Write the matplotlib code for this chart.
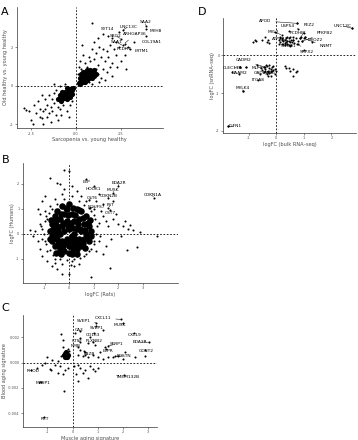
import numpy as np
import matplotlib
matplotlib.use("Agg")
import matplotlib.pyplot as plt

# ---- panel A: sarcopenia vs old healthy
a_x = [0.9, 1.2, 1.5, 1.8, 2.0, 2.2, 3.2, 2.4, 2.1, 1.9, 1.7, 1.5, 1.3, 1.1, 0.9, 0.7, 1.0, 1.4, 1.6, 1.8,
       2.0, 2.3, 2.8, 2.5, 2.2, 1.2, 0.5, 0.4, 0.3, 1.5, 1.7, 2.0, 1.4, 1.2, 0.8, 0.6, 0.2, 1.9, 1.3, 1.6,
       0.35, 1.0, 2.7, 0.1, 0.15, 1.1, 0.7, 0.9,
       -1.2, -1.4, -1.6, -1.8, -2.0, -2.2, -2.5, -2.4, -2.9, -2.75, -1.9, -1.5, -1.3, -1.1, -1.0, -1.7, -1.5,
       -1.2, -2.1, -1.9, -1.3, -0.9, -0.7, -1.6, -2.3, -1.1, -0.3, -0.5, -1.4, -1.8, -1.0, -0.8, -0.2, -2.6,
       -1.2, -0.9, -0.6, -0.4, -1.7, -2.0]
a_y = [3.25, 2.5, 2.7, 2.6, 2.5, 2.3, 2.3, 2.0, 1.9, 2.1, 1.8, 1.9, 2.0, 1.7, 1.9, 1.5, 1.4, 1.5, 1.3, 1.5,
       1.2, 1.0, 0.9, 1.3, 1.6, 1.1, 1.2, 1.6, 0.9, 0.9, 0.7, 0.5, 0.4, 0.6, 1.3, 1.0, 1.3, 1.0, 0.2, 0.3,
       2.1, 2.3, 1.6, 0.6, 1.0, 0.9, 0.2, 0.1,
       -0.9, -1.1, -1.0, -1.3, -1.2, -1.4, -1.8, -2.0, -1.15, -1.25, -1.7, -1.4, -1.3, -1.5, -1.1, -0.7, -0.5,
       -0.4, -0.8, -0.5, -0.7, -1.2, -1.0, -1.6, -1.0, -0.2, -1.0, -1.3, -1.9, -2.0, -1.8, -1.5, -0.8, -1.3,
       0.1, 0.0, 0.1, -1.6, -1.2, -1.6]
a_core_x = [0.2, 0.3, 0.4, 0.5, 0.6, 0.7, 0.8, 0.9, 0.4, 0.3, 0.5, 0.6, 0.7, 0.8, 1.0, 1.1, 0.9, 0.2, 0.15,
            0.5, 0.45, 0.65, 0.55, 0.35, 0.75, 1.0, 0.85, 0.25, 0.6, 0.4,
            -0.2, -0.3, -0.4, -0.5, -0.6, -0.7, -0.8, -0.9, -0.4, -0.3, -0.5, -0.6, -0.7, -0.8, -1.0, -0.2,
            -0.45, -0.55, -0.65, -0.35, -0.15, -0.75, -0.5, -0.9]
a_core_y = [0.2, 0.3, 0.2, 0.4, 0.5, 0.6, 0.5, 0.7, 0.5, 0.6, 0.7, 0.3, 0.4, 0.8, 0.8, 0.6, 0.4, 0.4, 0.15,
            0.2, 0.35, 0.65, 0.55, 0.45, 0.75, 0.5, 0.6, 0.1, 0.8, 0.7,
            -0.2, -0.3, -0.2, -0.4, -0.5, -0.6, -0.5, -0.7, -0.5, -0.6, -0.7, -0.3, -0.4, -0.8, -0.7, -0.45,
            -0.35, -0.55, -0.65, -0.15, -0.1, -0.3, -0.1, -0.5]
a_labels = ["SYT14", "UNC13C", "SAA2", "MYH8", "SBG2", "ARHGAP36", "SAA1", "COL19A1", "PCDH7", "LRTM1"]
a_lab_x = [1.78, 2.9, 3.85, 4.45, 2.2, 3.28, 2.28, 4.2, 2.67, 3.65]
a_lab_y = [2.94, 3.07, 3.3, 2.87, 2.6, 2.68, 2.26, 2.3, 1.9, 1.83]
a_pt_x = [2.4, 2.6, 3.9, 3.9, 2.5, 2.7, 2.6, 3.9, 2.9, 3.0]
a_pt_y = [2.8, 2.9, 3.1, 2.95, 2.45, 2.2, 2.1, 2.6, 2.0, 1.9]

# ---- panel B: rats vs humans
b_x = [-0.78, -0.2, 0.0, -0.4, -0.5, 0.1, -0.3, -1.0, -1.1, -1.3, -1.2, -1.63, -1.4, -1.5, -1.3, -1.2, -1.1,
       -0.9, -0.7, -0.5, -0.3, 0.0, 0.2, 0.4, 0.6, 2.37, 2.78, 2.9, 3.6, 1.67, 0.9,
       1.5, 1.6, 1.8, 2.0, 2.2, 2.4, 1.3, 1.4, 1.9, 2.3, 2.6, 1.2, 1.5, 1.7, 1.4, 1.1, 2.1, 1.8, 1.4, 1.1,
       1.2, 1.0, 2.5, -0.6, -0.2, 0.3, 0.5, 0.7, -0.8, -1.0, -0.9, -1.2, -1.1, -1.0, -0.9, -0.6, -0.3, 0.1,
       0.3, 0.8, 1.0, -1.0, -1.05, -0.95, -0.85, -0.7, -0.5, -0.2, 0.1, 0.4, 0.6, 0.9, 1.05, 1.15, 1.1, 1.0,
       0.9, 0.7, 0.45, 0.2, -0.1, -0.4, -0.65, -0.8, -1.1, -1.15, -0.95, 1.2, 1.0, 0.8, -0.6, 0.05, 1.25]
b_y = [2.24, 2.55, 2.5, 2.0, 2.05, 1.9, 1.6, 1.5, 1.3, 1.0, 0.8, 0.16, 0.1, -0.1, -0.3, -0.6, -0.9, -1.1,
       -1.3, -1.4, -1.6, -1.6, -1.3, -1.2, -0.9, -0.64, -0.52, 0.08, -0.08, -1.36, -1.72,
       0.5, 0.3, 0.6, 0.4, 0.3, 0.2, 0.9, 0.7, 0.8, 0.5, 0.15, -0.3, -0.5, -0.2, -0.8, -0.7, -0.1, 1.3, 1.2,
       1.3, 1.6, 1.0, 0.35, 1.4, 1.8, 1.7, 1.5, 1.3, 1.1, 0.9, 0.6, 0.4, 0.2, -0.3, -0.7, -1.0, -1.2, -1.1,
       -0.9, -0.7, -0.4, 0.5, 0.0, -0.4, 0.85, 1.0, 1.2, 1.4, 1.5, 1.3, 1.15, 0.9, 0.6, 0.3, 0.0, -0.3, -0.6,
       -0.8, -0.95, -1.0, -1.05, -1.0, -0.85, -0.65, -0.2, 0.3, 0.7, 0.45, 0.75, 1.05, -1.15, -1.25, -0.1]
b_core_x = [-0.8, -0.7, -0.7, -0.6, -0.6, -0.6, -0.5, -0.5, -0.5, -0.4, -0.4, -0.4, -0.3, -0.3, -0.3, -0.2,
            -0.2, -0.2, -0.1, -0.1, 0.0, 0.0, 0.0, 0.1, 0.1, 0.1, 0.2, 0.2, 0.2, 0.3, 0.3, 0.3, 0.4, 0.4,
            0.5, 0.5, 0.5, 0.6, 0.6, 0.7, 0.7, 0.8, 0.8, 0.9, -0.8, -0.75, -0.1, 0.4, 0.0, -0.35, 0.65, 0.85,
            -0.65, -0.55, -0.45, -0.45, -0.35, -0.25, -0.25, -0.15, -0.05, -0.05, 0.05, 0.05, 0.15, 0.15,
            0.25, 0.25, 0.35, 0.35, 0.45, 0.55, 0.55, 0.65, 0.75, 0.75, -0.7, -0.15, 0.15, -0.55, 0.3, 0.9]
b_core_y = [0.1, 0.4, -0.3, 0.7, 0.0, -0.5, 0.3, -0.2, 0.9, 0.6, 0.0, -0.6, 1.1, 0.3, -0.3, 0.8, 0.1, -0.7,
            0.5, -0.2, 1.2, 0.2, -0.5, 0.8, -0.1, -0.8, 0.5, 0.0, -0.4, 1.0, 0.2, -0.6, 0.6, -0.2, 0.9, 0.1,
            -0.5, 0.4, -0.2, 0.7, 0.0, 0.3, -0.3, 0.1, -0.2, 0.55, 1.0, 0.95, -0.75, -0.8, -0.55, 0.55,
            0.2, 0.5, -0.4, 0.15, 0.8, 0.45, -0.5, -0.35, 0.3, 0.75, 0.45, -0.3, 0.25, -0.6, 0.75, -0.2,
            -0.4, 0.4, 0.2, 0.65, -0.35, 0.15, -0.15, 0.45, -0.1, 1.05, 1.05, -0.75, -0.8, -0.1]
b_labels = ["LEP", "HOOK1", "EDA2R", "MUSK", "CDKN1A", "CST6", "CDKN2B", "NDUFS7", "FST", "CST7"]
b_lab_x = [0.69, 0.98, 2.04, 1.8, 3.4, 0.94, 1.63, 1.1, 1.7, 1.7]
b_lab_y = [2.09, 1.8, 2.03, 1.76, 1.56, 1.45, 1.53, 1.09, 1.16, 0.84]
b_pt_x = [0.69, 1.0, 2.0, 1.8, 3.45, 0.8, 1.6, 0.85, 1.6, 1.65]
b_pt_y = [2.2, 1.9, 1.9, 1.65, 1.45, 1.35, 1.42, 1.05, 1.05, 0.95]

# ---- panel C: muscle vs blood aging signature
c_x = [-0.47, -0.4, -0.4, -0.35, -0.3, -0.25, -0.2, -0.15, -0.3, -0.45, -0.2,
       -1.0, -0.8, -0.6, -1.2, -1.4, -0.9, -0.7, -0.5, -0.3, -0.6, -0.4, -0.2, -0.85, -1.1, -0.35,
       0.2, 0.3, 0.4, 0.5, 0.7, 0.8, 1.0, 0.23, 0.6, 0.9, 0.15, 0.05,
       0.2, 0.3, 0.4, 0.5, 0.6, 0.8, 1.0, 1.2, 1.4, 1.6, 1.8, 2.0, 2.1, 2.5, 2.9, 1.1, 1.3, 0.6, 0.9, 0.7,
       0.3, 1.2, 0.1, 0.45]
c_y = [0.00226, 0.0018, 0.0012, 0.0008, 0.0006, 0.0007, 0.0005, 0.0009, 0.0004, 0.0005, 0.0011,
       0.0004, 0.0002, 0.0001, -0.0002, -0.0004, -0.0005, -0.0002, -0.0003, -0.0006, -0.0008, -0.0009,
       -0.0004, -0.0006, 0.0, -0.00226,
       -0.0002, -0.0004, -0.0008, -0.0006, -0.0003, -0.0005, -0.0004, -0.00148, -0.0012, -0.0007, -0.0009,
       -0.0003,
       0.0006, 0.001, 0.0005, 0.0008, 0.0004, 0.0006, 0.0004, 0.0003, 0.0004, 0.0004, 0.0005, 0.0003, 0.0008,
       0.0004, 0.0005, 0.0008, 0.0012, 0.0015, 0.0014, 0.002, 0.0019, 0.0026, 0.0023, 0.0009]
c_core_x = [-0.35, -0.3, -0.25, -0.2, -0.32, -0.22, -0.28]
c_core_y = [0.0006, 0.0007, 0.0005, 0.0006, 0.0004, 0.0004, 0.0008]
c_labels = ["SVEP1", "CXCL11", "MUSK", "SVEP1", "CA3", "CD163", "CXCL9", "CTSF", "PLXNB2", "EDA2R",
            "SFRP1", "NMB", "LEPR", "FRZB", "GCNT2", "POSTN", "TMEM132B", "RHOD", "MASP1", "RET"]
c_lab_x = [0.43, 1.23, 1.9, 0.96, 0.28, 0.83, 2.49, 0.2, 0.85, 2.7, 1.74, 0.12, 1.42, 0.67, 2.92, 2.06,
           2.17, -1.58, -1.18, -1.1]
c_lab_y = [0.00327, 0.00348, 0.00296, 0.00275, 0.00257, 0.00218, 0.00218, 0.00171, 0.00171, 0.00161,
           0.00145, 0.00127, 0.00093, 0.0007, 0.00088, 0.00052, -0.00114, -0.00068, -0.00158, -0.00441]
c_pt_x = [0.95, 1.95, 2.0, 0.95, 0.3, 0.85, 2.45, 0.3, 0.8, 3.05, 1.4, 0.2, 1.35, 0.5, 2.9, 1.7, 2.05,
          -1.65, -1.25, -1.15]
c_pt_y = [0.00315, 0.0034, 0.0031, 0.0029, 0.00245, 0.0023, 0.00232, 0.0016, 0.0016, 0.0016, 0.0013,
          0.0012, 0.0011, 0.0006, 0.001, 0.0005, -0.001, -0.0006, -0.0015, -0.0043]

# ---- panel D: bulk vs single-nucleus RNA-seq
d_x = [-0.85, -0.78, -0.72, -0.5, -0.4, -0.35, -0.25, -0.3,
       0.1, 0.15, 0.2, 0.25, 0.3, 0.35, 0.4, 0.45, 0.5, 0.55, 0.6, 0.65, 0.7, 0.75, 0.2, 0.3, 0.4, 0.5, 0.15,
       0.25, 0.35, 0.45, 0.55, 0.62, 0.1, 0.8, 0.85, 0.9, 0.2, 0.3, 0.12, 0.4, 0.5, 0.58,
       0.75, 0.45, 1.0, 1.05, -0.05, 0.95, 1.3, 1.0,
       -0.45, -0.4, -0.35, -0.3, -0.25, -0.2, -0.15, -0.1, -0.05, -0.45, -0.35, -0.25, -0.2, -0.15, -0.1,
       -0.3, -0.4, -0.5, -0.55, -0.05, 0.0, -0.18, -0.28, -0.38,
       0.3, 0.35, 0.45, 0.5, 0.6, 0.7, 0.77, 0.6,
       -1.3, -1.6, -1.1, -0.7, -0.6, -0.65, -1.35, 2.75, -1.21, -1.76]
d_y = [0.35, 0.4, 0.37, 0.42, 0.48, 0.36, 0.33, 0.42,
       0.4, 0.35, 0.45, 0.3, 0.4, 0.35, 0.3, 0.45, 0.35, 0.28, 0.4, 0.33, 0.45, 0.3, 0.3, 0.28, 0.5, 0.5,
       0.5, 0.38, 0.45, 0.28, 0.42, 0.5, 0.3, 0.38, 0.45, 0.5, 0.4, 0.33, 0.45, 0.38, 0.25, 0.35,
       0.85, 0.65, 0.6, 0.48, 0.62, 0.38, 0.35, 0.15,
       -0.3, -0.35, -0.28, -0.4, -0.32, -0.45, -0.3, -0.38, -0.5, -0.45, -0.5, -0.25, -0.35, -0.42, -0.28,
       -0.55, -0.42, -0.38, -0.32, -0.35, -0.4, -0.55, -0.47, -0.25,
       -0.28, -0.32, -0.33, -0.4, -0.35, -0.45, -0.4, -0.55,
       -0.3, -0.45, -0.3, -0.25, -0.5, -0.65, -0.5, 0.72, -0.95, -1.88]
d_labels = ["APOD", "USP54", "FEZ2", "UNC13C", "MYL2", "PCDHB", "PFKFB2", "ATP2A2", "MYOZ2", "NNMT",
            "SMOC1", "SRPX2", "CADM2", "CLEC11A", "MLF1", "DAAM2", "GADD45G", "ITGA8", "MYLK4", "IGFN1"]
d_lab_x = [-0.39, 0.4, 1.2, 2.42, -0.1, 0.75, 1.75, 0.14, 1.43, 1.8, 0.46, 1.1, -1.18, -1.57, -0.7,
           -1.33, -0.43, -0.64, -1.21, -1.5]
d_lab_y = [0.91, 0.78, 0.8, 0.78, 0.61, 0.6, 0.59, 0.43, 0.4, 0.24, 0.24, 0.09, -0.13, -0.32, -0.32, -0.47,
           -0.47, -0.65, -0.87, -1.88]
d_pt_x = [0.75, 0.8, 0.85, 2.75, 0.2, 0.6, 0.95, 0.45, 1.05, 1.0, 0.4, 0.8, -0.45, -1.3, -0.4, -1.1,
          -0.2, -0.3, -1.21, -1.76]
d_pt_y = [0.85, 0.7, 0.45, 0.72, 0.55, 0.42, 0.38, 0.38, 0.48, 0.45, 0.3, 0.3, -0.3, -0.3, -0.3, -0.3,
          -0.4, -0.45, -0.95, -1.88]

TXT = "#4d4d4d"

fig = plt.figure(figsize=(3.58, 4.4), dpi=100)


def panel(rect, xs, ys, cx, cy, labs, lx, ly, px, py, xlim, ylim, xt, xtl, yt, ytl, xlabel, ylabel,
          core_size=14):
    ax = fig.add_axes(rect)
    ax.scatter(cx, cy, s=core_size, c="black", linewidths=0)
    ax.scatter(xs, ys, s=2.2, c="black", linewidths=0)
    ax.scatter(px, py, s=2.2, c="black", linewidths=0)
    ax.axhline(0, color="black", lw=0.6, ls=(0, (2, 2)))
    ax.axvline(0, color="black", lw=0.6, ls=(0, (2, 2)))
    for name, tx, ty, x0, y0 in zip(labs, lx, ly, px, py):
        ax.annotate(name, xy=(x0, y0), xytext=(tx, ty), fontsize=3.2, ha="center", va="center",
                    arrowprops=dict(arrowstyle="-", lw=0.35, color="black", shrinkA=1, shrinkB=0.5))
    ax.set_xlim(*xlim)
    ax.set_ylim(*ylim)
    ax.set_xticks(xt)
    ax.set_xticklabels(xtl)
    ax.set_yticks(yt)
    ax.set_yticklabels(ytl)
    ax.tick_params(length=1.5, width=0.4, labelsize=2.5, labelcolor=TXT, pad=1, color="#333333")
    for s in ["top", "right"]:
        ax.spines[s].set_visible(False)
    for s in ["left", "bottom"]:
        ax.spines[s].set_linewidth(0.5)
        ax.spines[s].set_color("#333333")
    ax.set_xlabel(xlabel, fontsize=3.6, color=TXT, labelpad=1)
    ax.set_ylabel(ylabel, fontsize=3.6, color=TXT, labelpad=1)
    return ax


panel([0.047, 0.709, 0.408, 0.275], a_x, a_y, a_core_x, a_core_y, a_labels, a_lab_x, a_lab_y, a_pt_x, a_pt_y,
      (-3.28, 4.83), (-2.2, 4.1), [-2.5, 0, 2.5], ["-2.5", "0.0", "2.5"], [-2, 0, 2], ["-2", "0", "2"],
      "Sarcopenia vs. young healthy", "Old healthy vs. young healthy")
panel([0.623, 0.698, 0.372, 0.261], d_x, d_y, [], [], d_labels, d_lab_x, d_lab_y, d_pt_x, d_pt_y,
      (-1.93, 2.9), (-2.05, 0.99), [-1, 0, 1, 2], ["-1", "0", "1", "2"], [-2, -1, 0], ["-2", "-1", "0"],
      "logFC (bulk RNA\u2013seq)", "logFC (snRNA\u2013seq)")
panel([0.064, 0.357, 0.433, 0.273], b_x, b_y, b_core_x, b_core_y, b_labels, b_lab_x, b_lab_y, b_pt_x, b_pt_y,
      (-1.9, 4.45), (-1.96, 2.84), [-1, 0, 1, 2, 3], ["-1", "0", "1", "2", "3"], [-1, 0, 1, 2],
      ["-1", "0", "1", "2"], "logFC (Rats)", "logFC (Humans)", core_size=22)
panel([0.064, 0.03, 0.374, 0.254], c_x, c_y, c_core_x, c_core_y, c_labels, c_lab_x, c_lab_y, c_pt_x, c_pt_y,
      (-1.98, 3.36), (-0.00506, 0.00374), [-1, 0, 1, 2, 3], ["-1", "0", "1", "2", "3"],
      [-0.004, -0.002, 0, 0.002], ["-0.004", "-0.002", "0.000", "0.002"],
      "Muscle aging signature", "Blood aging signature")

for letter, x, y in [("A", 0.003, 0.985), ("B", 0.006, 0.648), ("C", 0.003, 0.312), ("D", 0.553, 0.985)]:
    fig.text(x, y, letter, fontsize=8, va="top", ha="left")

fig.savefig("out.png", dpi=100)
